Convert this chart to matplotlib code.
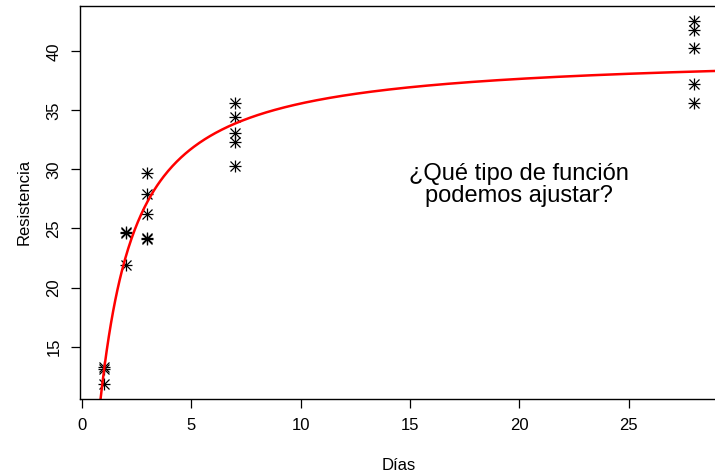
import numpy as np
import matplotlib
matplotlib.use("Agg")
import matplotlib.pyplot as plt

plt.rcParams['font.family'] = ['Liberation Sans', 'DejaVu Sans']

dias = [1, 1, 1, 2, 2, 2, 3, 3, 3, 3, 3, 7, 7, 7, 7, 7, 28, 28, 28, 28, 28]
resistencia = [13.1, 13.3, 11.8, 24.6, 24.7, 21.9, 29.7, 27.9, 26.2, 24.1, 24.2,
               35.6, 34.4, 33.1, 32.3, 30.3, 42.6, 41.8, 40.3, 37.25, 35.6]
xticks = [0, 5, 10, 15, 20, 25]
yticks = [15, 20, 25, 30, 35, 40]

# fitted model ln(y) = a - b/x
coef = np.polyfit(1.0 / np.array(dias), np.log(resistencia), 1)
xs = np.linspace(0.5, 30, 600)
ys = np.exp(coef[1] + coef[0] / xs)

W, H = 715, 472
fig = plt.figure(figsize=(W / 100, H / 100), dpi=100)
ax = fig.add_axes([80 / W, 1 - 399 / H, (718 - 80) / W, (399 - 6) / H])

ax.plot(dias, resistencia, linestyle='none', marker='+', ms=9, mew=0.9, color='black')
ax.plot(dias, resistencia, linestyle='none', marker='x', ms=7, mew=0.9, color='black')
ax.plot(xs, ys, color='red', lw=1.8)

xmin, xmax = min(dias), max(dias)
ymin, ymax = min(resistencia), max(resistencia)
ax.set_xlim(xmin - 0.04 * (xmax - xmin), xmax + 0.04 * (xmax - xmin))
ax.set_ylim(ymin - 0.04 * (ymax - ymin), ymax + 0.04 * (ymax - ymin))

ax.set_xticks(xticks)
ax.set_yticks(yticks)
ax.set_yticklabels([str(t) for t in yticks], rotation=90, va='center')
ax.tick_params(direction='out', length=6.5, width=0.9, labelsize=12, pad=7)
for s in ax.spines.values():
    s.set_linewidth(1)

fig.text(399 / W, 1 - 465 / H, 'Días', fontsize=12, ha='center', va='center')
fig.text(24 / W, 1 - 202 / H, 'Resistencia', fontsize=12, rotation=90,
         ha='center', va='center')

ax.text(20.0, 28.7, '¿Qué tipo de función\npodemos ajustar?', fontsize=17,
        ha='center', va='center', linespacing=1.0)

fig.savefig('out.png', dpi=100)
